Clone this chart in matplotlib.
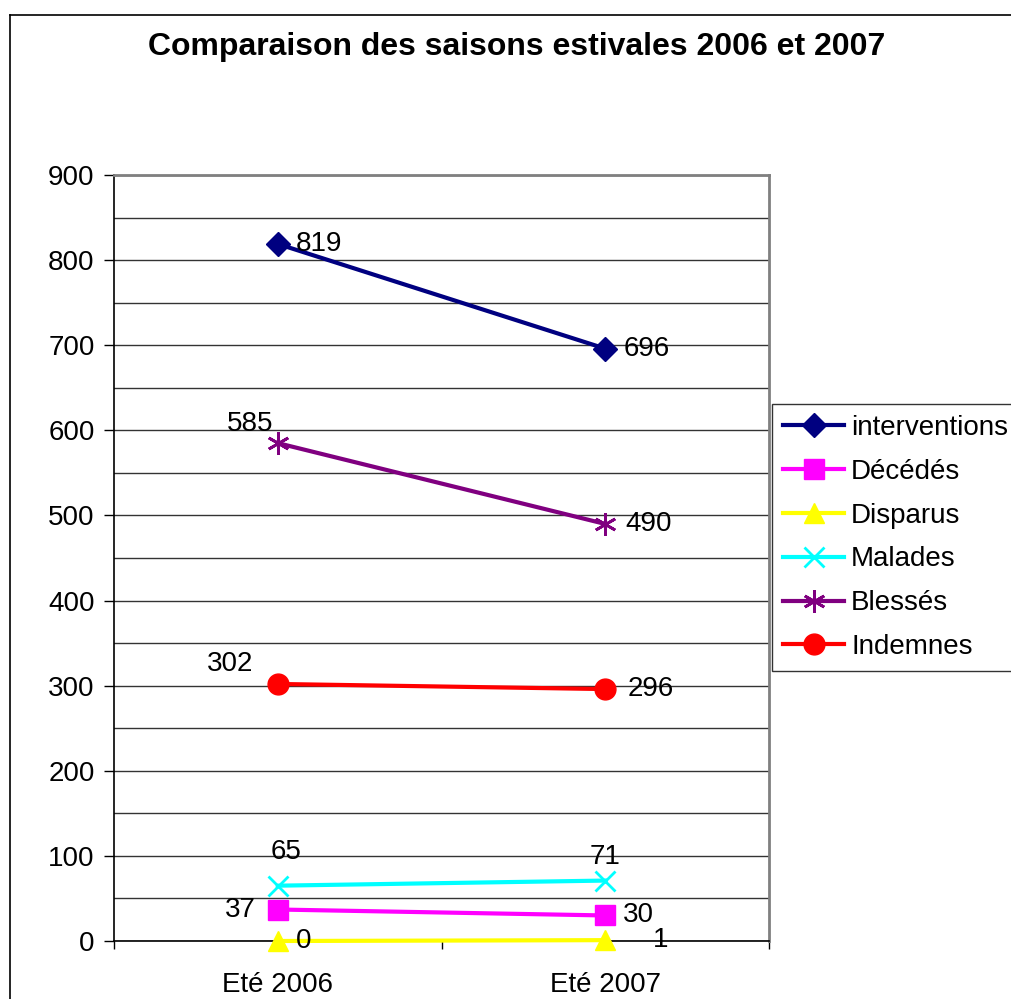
import matplotlib
matplotlib.use("Agg")
import matplotlib.pyplot as plt
from matplotlib.lines import Line2D

plt.rcParams["font.family"] = ["Liberation Sans", "DejaVu Sans"]

TITLE = "Comparaison des saisons estivales 2006 et 2007"
CATEGORIES = ["Eté 2006", "Eté 2007"]

SERIES_NAMES = ["interventions", "Décédés", "Disparus", "Malades", "Blessés", "Indemnes"]
interventions = [819, 696]
decedes = [37, 30]
disparus = [0, 1]
malades = [65, 71]
blesses = [585, 490]
indemnes = [302, 296]

SERIES_VALUES = [interventions, decedes, disparus, malades, blesses, indemnes]

COLORS = ["#000080", "#FF00FF", "#FFFF00", "#00FFFF", "#800080", "#FF0000"]
MARKERS = ["D", "s", "^", "x", (6, 2, 0), "o"]
MARKER_SIZES = [12, 15, 15, 15, 16, 15]

# label offsets in pixels (dx, dy, ha) for each point
LABEL_OFFSETS = [
    [(18, 0, "left"), (18, 0, "left")],
    [(-22, 0, "right"), (18, 0, "left")],
    [(18, 0, "left"), (48, 0, "left")],
    [(8, 34, "center"), (0, 24, "center")],
    [(-4, 19, "right"), (20, 0, "left")],
    [(-24, 20, "right"), (22, 0, "left")],
]

W, H = 1011, 999
fig = plt.figure(figsize=(W / 100, H / 100), dpi=100)

# outer chart border (only left and top visible)
fig.add_artist(Line2D([10 / W, 10 / W], [0, 1 - 15 / H], transform=fig.transFigure,
                      color="black", linewidth=1.2))
fig.add_artist(Line2D([10 / W, 1], [1 - 15 / H, 1 - 15 / H], transform=fig.transFigure,
                      color="black", linewidth=1.2))

ax = fig.add_axes([114 / W, 1 - 941 / H, (769 - 114) / W, (941 - 175) / H])

x = list(range(len(CATEGORIES)))
for name, values, color, marker, ms, offsets in zip(
    SERIES_NAMES, SERIES_VALUES, COLORS, MARKERS, MARKER_SIZES, LABEL_OFFSETS
):
    mew = 2 if marker in ("x", (6, 2, 0)) else 1
    ax.plot(x, values, color=color, linewidth=3, marker=marker, markersize=ms,
            markeredgewidth=mew, markeredgecolor=color, markerfacecolor=color,
            label=name, zorder=3, clip_on=False)
    for xi, v, (dx, dy, ha) in zip(x, values, offsets):
        ax.annotate(str(v), (xi, v), xytext=(dx, dy), textcoords="offset pixels",
                    ha=ha, va="center", fontsize=20, zorder=4)

ax.set_xlim(-0.5, 1.5)
ax.set_ylim(0, 900)
ax.set_yticks(range(0, 901, 100))
ax.set_yticks(range(50, 900, 100), minor=True)
ax.grid(True, axis="y", which="both", color="#333333", linewidth=1)
ax.set_axisbelow(True)

ax.set_xticks(x)
ax.set_xticklabels(CATEGORIES)
ax.set_xticks([-0.5, 0.5, 1.5], minor=True)
ax.tick_params(axis="x", which="major", length=0, pad=22, labelsize=20)
ax.tick_params(axis="x", which="minor", length=6, width=1, direction="out")
ax.tick_params(axis="y", which="major", length=7, width=1, pad=7, labelsize=20)
ax.tick_params(axis="y", which="minor", length=0)

ax.spines["top"].set_color("#808080")
ax.spines["right"].set_color("#808080")
ax.spines["top"].set_linewidth(2)
ax.spines["right"].set_linewidth(2)
ax.spines["left"].set_linewidth(1.2)
ax.spines["bottom"].set_linewidth(1.2)

fig.text(517 / W, 1 - 47 / H, TITLE, ha="center", va="center",
         fontsize=23, fontweight="bold")

leg = fig.legend(loc="upper left", bbox_to_anchor=(772 / W, 1 - 404 / H),
                 fontsize=20, frameon=True, fancybox=False, handlelength=2.2,
                 borderpad=0.4, labelspacing=0.64, handletextpad=0.25,
                 borderaxespad=0)
leg.get_frame().set_edgecolor("black")
leg.get_frame().set_linewidth(1)

fig.savefig("out.png", dpi=100)
